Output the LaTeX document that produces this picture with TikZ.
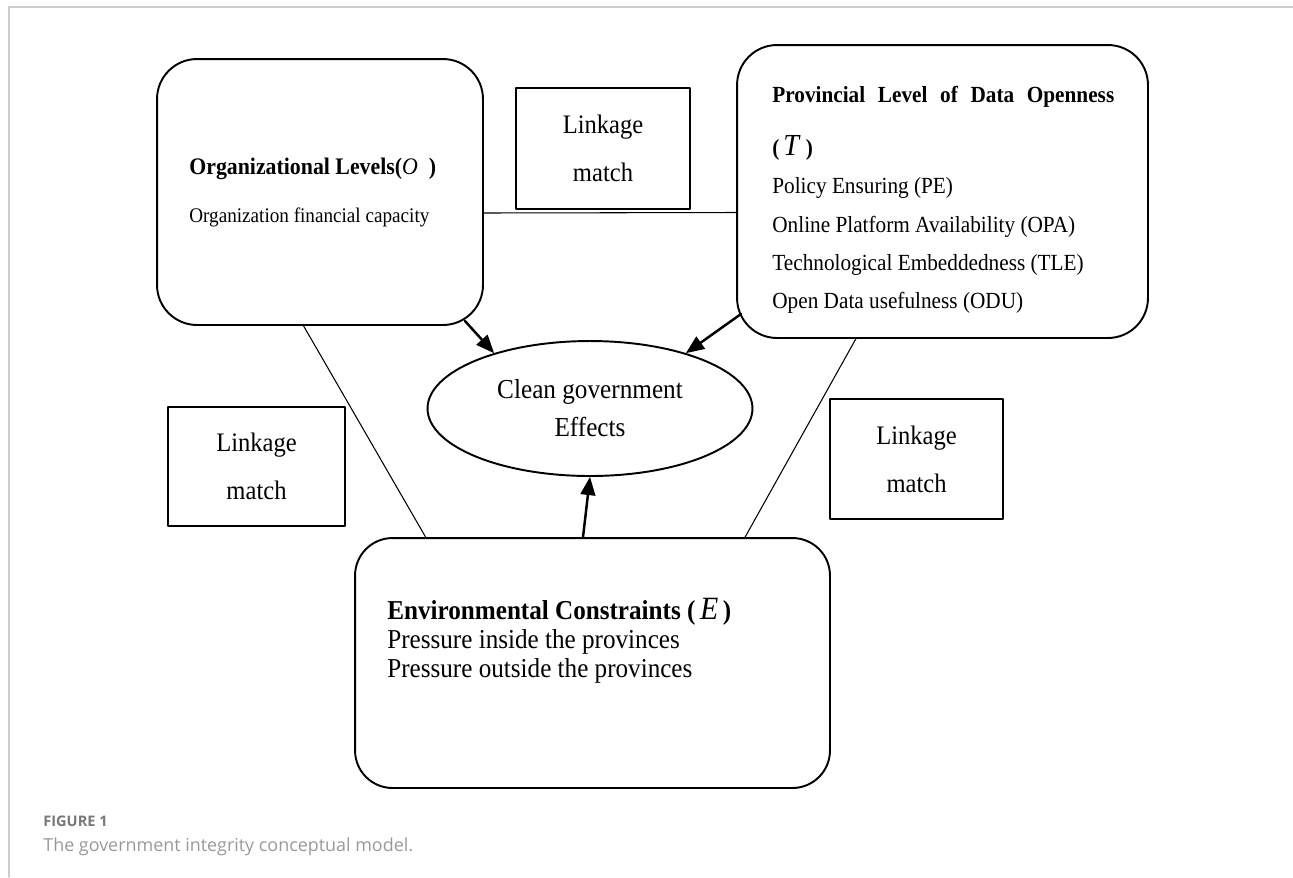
\documentclass[tikz,border=0pt]{standalone}
\usepackage{fontspec}
\setmainfont[FakeStretch=0.92]{Liberation Serif}
\newfontfamily\capfont{Open Sans}
\usepackage{tikz}
\usetikzlibrary{calc}
\usetikzlibrary{arrows}
\usetikzlibrary{shapes.geometric}
\definecolor{cccccc}{rgb}{0.8,0.8,0.8}
\definecolor{xxxxxx}{rgb}{0.47,0.47,0.47}
\definecolor{zzzzzz}{rgb}{0.6,0.6,0.6}
\tikzstyle{every node}=[inner sep=0pt]
\tikzstyle{bigbox}=[draw,line width=1.1pt,rounded corners=0.8cm]
\tikzstyle{linkbox}=[draw,line width=0.9pt,align=center,font=\fontsize{15.2}{27.3}\selectfont]
\tikzstyle{arr}=[->,line width=1.4pt]
\tikzstyle{tie}=[line width=0.6pt]
\tikzstyle{txt}=[anchor=north west,align=left]

\begin{document}
\begin{tikzpicture}[line cap=round,line join=round,>=triangle 45,x=0.02cm,y=-0.02cm]
                \useasboundingbox (0,0) rectangle (1293,877);
                \draw [line width=0.6pt,color=cccccc] (9,877) -- (9,7) -- (1293,7);
                % the three factor boxes and the effect
                \node [bigbox,minimum width=6.52cm,minimum height=5.32cm] (O) at (320,192) {};
                \node [bigbox,minimum width=8.22cm,minimum height=5.86cm] (T) at (942.5,191.5) {};
                \node [bigbox,rounded corners=0.75cm,minimum width=9.5cm,minimum height=5cm] (E) at (592.5,663) {};
                \node [ellipse,draw,line width=1.1pt,minimum width=6.5cm,minimum height=2.7cm,align=center,font=\fontsize{15.6}{21.6}\selectfont] (C) at (590,408.5) {Clean government\\Effects};
                \node [txt,font=\fontsize{11.85}{27.3}\selectfont] (Otxt) at (189,158) {{\fontsize{13.5}{27.3}\selectfont\textbf{Organizational Levels(}\textit{O}\ \ \textbf{)}}\\Organization financial capacity};
                \node [txt,font=\fontsize{13.15}{21.8}\selectfont] (Ttxt) at (772,86) {\makebox[194.6pt][s]{\bfseries Provincial Level of Data Openness}\\[8.3pt]\textbf{(}\,\textit{\fontsize{17.4}{17.4}\selectfont T}\ \textbf{)}\\Policy Ensuring (PE)\\Online Platform Availability (OPA)\\Technological Embeddedness (TLE)\\Open Data usefulness (ODU)};
                \node [txt,font=\fontsize{15.55}{16.5}\selectfont] (Etxt) at (387,598) {\textbf{Environmental Constraints (}\,\textit{\fontsize{18.5}{16.5}\selectfont E}\,\textbf{)}\\Pressure inside the provinces\\Pressure outside the provinces};
                % linkage boxes
                \node [linkbox,minimum width=3.48cm,minimum height=2.42cm] (Ltop) at (603,148.5) {Linkage\\match};
                \node [linkbox,minimum width=3.54cm,minimum height=2.38cm] (Lleft) at (256.5,466.5) {Linkage\\match};
                \node [linkbox,minimum width=3.46cm,minimum height=2.4cm] (Lright) at (916.5,459) {Linkage\\match};
                \draw [tie] ([yshift=-0.42cm]O.east) -- ([yshift=-0.42cm]T.west);
                \draw [tie] ($(O.south west)!0.45!(O.south east)$) -- ($(E.north west)!0.15!(E.north east)$);
                \draw [tie] ($(T.south west)!0.29!(T.south east)$) -- ($(E.north west)!0.82!(E.north east)$);
                \draw [arr] ([shift={(-19,-5)}]O.south east) -- (C.150);
                \draw [arr] ([shift={(5,-25)}]T.south west) -- (C.30);
                \draw [arr] ([xshift=-0.19cm]E.north) -- (C.south);
                % caption
                \node [anchor=base west,font=\capfont\bfseries\fontsize{8.3}{10}\selectfont,color=xxxxxx] (fig) at (43,826) {FIGURE 1};
                \node [anchor=base west,font=\capfont\fontsize{10.2}{12}\selectfont,color=zzzzzz] (cap) at (43,851) {The government integrity conceptual model.};
            \end{tikzpicture}
\end{document}
